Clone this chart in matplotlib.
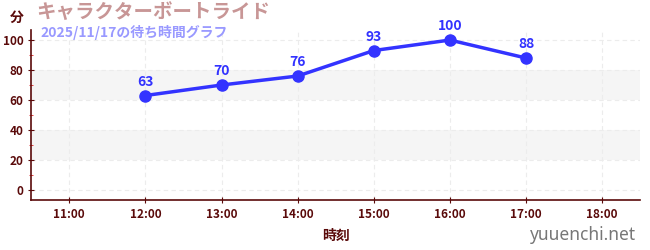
import matplotlib
matplotlib.use("Agg")
import matplotlib.pyplot as plt
from matplotlib.ticker import MultipleLocator

plt.rcParams['font.family'] = ['Noto Sans CJK JP', 'DejaVu Sans']

# ==========================
# DADOS
# ==========================
horas = [12, 13, 14, 15, 16, 17]
espera = [63, 70, 76, 93, 100, 88]
ticks_x = [11, 12, 13, 14, 15, 16, 17, 18]
labels_x = ["11:00", "12:00", "13:00", "14:00", "15:00", "16:00", "17:00", "18:00"]
ticks_y = [0, 20, 40, 60, 80, 100]
faixas = [(20, 40), (60, 80)]

titulo = "キャラクターボートライド"
subtitulo = "2025/11/17の待ち時間グラフ"

ESCURO = "#5a0a0a"
AZUL = "#3333ff"

fig = plt.figure(figsize=(6.5, 2.5), dpi=100)
ax = fig.add_axes([0.048, 0.2, 0.937, 0.68])

for a, b in faixas:
    ax.axhspan(a, b, color="#f5f5f5", zorder=0, lw=0)

ax.plot(horas, espera, color=AZUL, lw=2.5, marker="o", ms=8, zorder=3)
for x, y in zip(horas, espera):
    ax.annotate(str(y), (x, y), xytext=(0, 5), textcoords="offset points",
                ha="center", va="bottom", color=AZUL, fontsize=10,
                fontweight="bold", zorder=4)

ax.set_xlim(10.5, 18.5)
ax.set_ylim(-6.7, 106.7)
ax.set_xticks(ticks_x)
ax.set_xticklabels(labels_x)
ax.set_yticks(ticks_y)
ax.yaxis.set_minor_locator(MultipleLocator(10))

ax.grid(True, which="major", color="#ececec", ls=(0, (4, 3)), lw=0.8, zorder=1)
ax.set_axisbelow(True)

for s in ["top", "right"]:
    ax.spines[s].set_visible(False)
for s in ["left", "bottom"]:
    ax.spines[s].set_color(ESCURO)
    ax.spines[s].set_linewidth(1.2)

ax.tick_params(axis="both", which="major", colors=ESCURO, labelsize=8.5,
               length=4, direction="inout")
ax.tick_params(axis="y", which="minor", colors="#dd2222", length=3,
               direction="inout")
for lbl in ax.get_xticklabels() + ax.get_yticklabels():
    lbl.set_fontweight("bold")

ax.set_xlabel("時刻", color=ESCURO, fontsize=10, fontweight="bold", labelpad=6)

fig.text(0.015, 0.93, "分", color=ESCURO, fontsize=10, fontweight="bold",
         ha="left", va="center")
fig.text(0.055, 0.95, titulo, color="#c89696", fontsize=14, fontweight="bold",
         ha="left", va="center")
fig.text(0.063, 0.872, subtitulo, color="#9999ff", fontsize=10, fontweight="bold",
         ha="left", va="center")
fig.text(0.978, 0.06, "yuuenchi.net", color="#777777", fontsize=12.5,
         ha="right", va="center", family=["Noto Sans", "DejaVu Sans"])

fig.savefig("out.png", dpi=100)
plt.close(fig)
